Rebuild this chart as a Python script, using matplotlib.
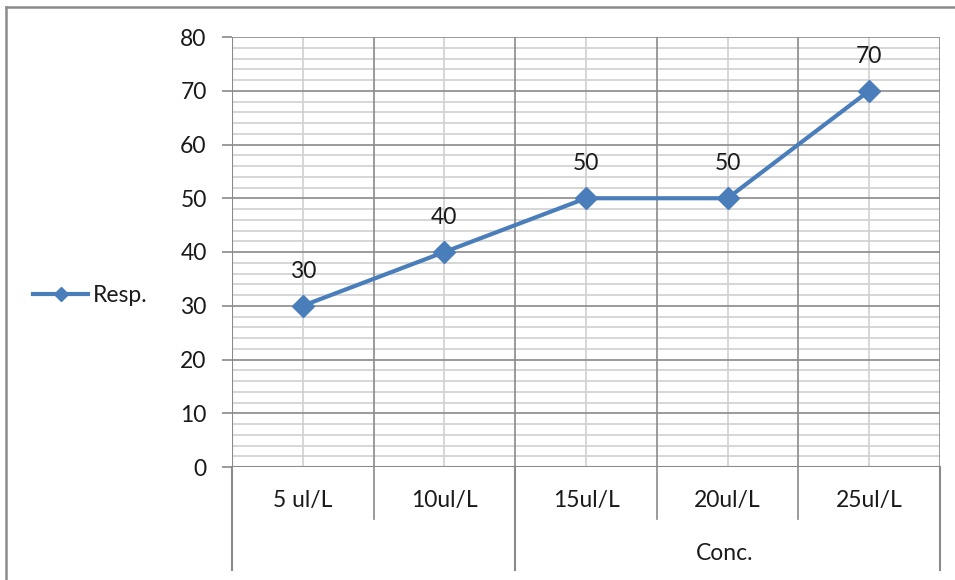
import matplotlib
matplotlib.use("Agg")
import matplotlib.pyplot as plt
from matplotlib.lines import Line2D
import numpy as np

# Data
categories = ["5 ul/L", "10ul/L", "15ul/L", "20ul/L", "25ul/L"]
resp = [30, 40, 50, 50, 70]
group_labels = ["", "Conc."]
group_spans = [(0, 2), (2, 5)]   # category index ranges of each outer group
series_name = "Resp."

FONT = "Lato"
FS = 16.5
TXT = "#1a1a1a"
LINE_C = "#4A7EBB"
MAJOR_C = "#8a8a8a"
MINOR_C = "#d0d0d0"

plt.rcParams["font.family"] = [FONT, "DejaVu Sans"]

W, H = 955, 580
fig = plt.figure(figsize=(W / 100, H / 100), dpi=100)
fig.patch.set_facecolor("white")

L, R, T, B = 232, 940, 37, 467
ax = fig.add_axes([L / W, 1 - B / H, (R - L) / W, (B - T) / H])

n = len(categories)
ax.set_xlim(-0.5, n - 0.5)
ax.set_ylim(0, 80)

# horizontal grid: minor every 2, major every 10
for v in np.arange(0, 81, 2):
    if v % 10 == 0:
        continue
    ax.axhline(v, color=MINOR_C, lw=1.2, zorder=1)
for v in np.arange(10, 81, 10):
    ax.axhline(v, color=MAJOR_C, lw=1.2, zorder=1.5)

# vertical grid: category centres (light) and boundaries (dark)
for i in range(n):
    ax.axvline(i, color=MINOR_C, lw=1.2, zorder=1)
for i in range(1, n + 1):
    ax.axvline(i - 0.5, color=MAJOR_C, lw=1.2, zorder=1.5)

for s in ax.spines.values():
    s.set_visible(False)
ax.axvline(-0.5, color=MAJOR_C, lw=1.5, zorder=2)
ax.axhline(0, color=MAJOR_C, lw=1.5, zorder=2)

# y ticks
ax.set_yticks(np.arange(0, 81, 10))
ax.tick_params(axis="y", length=7.2, width=1.2, color=MAJOR_C, pad=11,
               labelsize=FS, labelcolor=TXT)
ax.set_xticks([])

# category axis labels and separators
xt = ax.get_xaxis_transform()
row1 = -(519 - B) / (B - T)
row2 = -(570 - B) / (B - T)
for i, c in enumerate(categories):
    ax.text(i, -(500 - B) / (B - T), c, transform=xt, ha="center", va="center",
            fontsize=FS, color=TXT)
for i in range(1, n):
    ax.plot([i - 0.5, i - 0.5], [0, row1], transform=xt, color=MAJOR_C,
            lw=1.2, clip_on=False)
edges = sorted({e for span in group_spans for e in span})
for e in edges:
    ax.plot([e - 0.5, e - 0.5], [0, row2], transform=xt, color=MAJOR_C,
            lw=1.5, clip_on=False)
for (a, b), g in zip(group_spans, group_labels):
    ax.text((a + b - 1) / 2 - 0.02, -(553 - B) / (B - T), g, transform=xt,
            ha="center", va="center", fontsize=FS, color=TXT)

# series
x = np.arange(n)
ax.plot(x, resp, color=LINE_C, lw=3, marker="D", ms=11, mec=LINE_C,
        mfc=LINE_C, zorder=5, label=series_name, clip_on=False)
for xi, v in zip(x, resp):
    ax.annotate(f"{v}", (xi, v), xytext=(0, 20), textcoords="offset points",
                ha="center", va="baseline", fontsize=FS, color=TXT, zorder=6)

leg = fig.legend(loc="center left", bbox_to_anchor=(33 / W, 1 - 296 / H),
                 frameon=False, fontsize=FS, handlelength=2.4,
                 handletextpad=0.2, borderpad=0, borderaxespad=0,
                 markerscale=0.65)
for t in leg.get_texts():
    t.set_color(TXT)

# outer chart border (top and left edges fall inside the image)
fig.add_artist(Line2D([6 / W, 1], [1 - 7 / H, 1 - 7 / H], color="#8c8c8c",
                      lw=1.8, transform=fig.transFigure))
fig.add_artist(Line2D([6 / W, 6 / W], [0, 1 - 7 / H], color="#8c8c8c",
                      lw=1.8, transform=fig.transFigure))

fig.savefig("out.png", dpi=100, facecolor="white")
